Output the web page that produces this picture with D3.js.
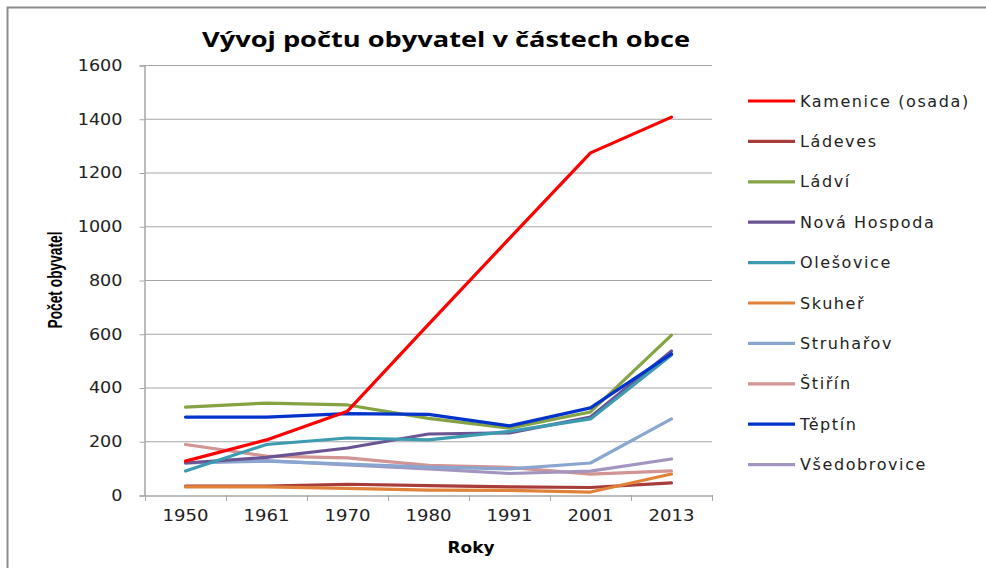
<!DOCTYPE html>
<html>
<head>
<meta charset="utf-8">
<script src="https://cdn.jsdelivr.net/npm/d3@7"></script>
<style>
  body { margin: 0; background: #fff; }
  svg { display: block; }
</style>
</head>
<body>
<div id="graf"></div>
<script>
// roky a casti obce
var roky = ['1950', '1961', '1970', '1980', '1991', '2001', '2013'];
var nazvy = ['Kamenice (osada)', 'Ládeves', 'Ládví', 'Nová Hospoda', 'Olešovice',
             'Skuheř', 'Struhařov', 'Štiřín', 'Těptín', 'Všedobrovice'];
var barvy = ['#ff0000', '#a83c3a', '#86a344', '#6b5494', '#3c9bb1',
             '#e0823a', '#8aa6d0', '#d39494', '#0033cc', '#a394c0'];

var kamenice     = [126, 205, 312, 635, 955, 1273, 1406];
var ladeves      = [33, 33, 40, 35, 30, 28, 45];
var ladvi        = [327, 342, 335, 285, 249, 309, 595];
var novaHospoda  = [119, 140, 175, 227, 231, 290, 536];
var olesovice    = [89, 188, 212, 205, 237, 283, 521];
var skuher       = [30, 30, 25, 18, 17, 11, 78];
var struharov    = [119, 126, 115, 104, 97, 119, 283];
var stirin       = [188, 145, 138, 110, 103, 78, 90];
var teptin       = [290, 290, 303, 300, 257, 324, 525];
var vsedobrovice = [120, 128, 112, 97, 80, 89, 134];

var serie = [kamenice, ladeves, ladvi, novaHospoda, olesovice,
             skuher, struharov, stirin, teptin, vsedobrovice];
var yTicks = [0, 200, 400, 600, 800, 1000, 1200, 1400, 1600];

var W = 986, H = 568;
var svg = d3.select("#graf").append("svg").attr("width", W).attr("height", H);

// ramecek (jen horni a leva hrana jsou videt)
svg.append("path").attr("d", "M7.5," + H + " L7.5,7.5 L" + W + ",7.5")
    .attr("fill", "none").attr("stroke", "#8c8c8c").attr("stroke-width", 2);

var x = d3.scaleBand().domain(roky).range([145, 712]);
var y = d3.scaleLinear().domain([0, 1600]).range([495, 65]);

// mrizka
svg.append("g").selectAll("line").data(yTicks.slice(1)).enter().append("line")
    .attr("x1", 145).attr("x2", 712)
    .attr("y1", function(d) { return y(d) + 0.5; }).attr("y2", function(d) { return y(d) + 0.5; })
    .attr("stroke", "#a6a6a6").attr("stroke-width", 1.2);

var osaY = svg.append("g").attr("transform", "translate(144.5,0.5)")
    .call(d3.axisLeft(y).tickValues(yTicks).tickSize(5).tickPadding(17).tickFormat(d3.format("d")));
var osaX = svg.append("g").attr("transform", "translate(0,495.5)")
    .call(d3.axisBottom(x).tickSize(0).tickPadding(15));
// ticky mezi kategoriemi
svg.append("g").selectAll("line").data(d3.range(roky.length + 1)).enter().append("line")
    .attr("x1", function(i) { return 145 + i * x.step() + 0.5; })
    .attr("x2", function(i) { return 145 + i * x.step() + 0.5; })
    .attr("y1", 495).attr("y2", 501).attr("stroke", "#a6a6a6");

[osaY, osaX].forEach(function(g) {
    g.select(".domain").attr("stroke", "#a6a6a6").attr("stroke-width", 1.5);
    g.selectAll(".tick line").attr("stroke", "#a6a6a6");
});
osaY.selectAll("text").attr("font-family", "DejaVu Sans, Verdana, sans-serif")
    .attr("font-size", 15).attr("fill", "#222")
    .attr("textLength", function(d) { return String(d).length * 11.2; })
    .attr("lengthAdjust", "spacingAndGlyphs");
osaX.selectAll("text").attr("font-family", "DejaVu Sans, sans-serif")
    .attr("font-size", 15).attr("fill", "#222")
    .attr("textLength", 46).attr("lengthAdjust", "spacingAndGlyphs");

// cary
var line = d3.line()
    .x(function(d, i) { return x(roky[i]) + x.bandwidth() / 2; })
    .y(function(d) { return y(d); });

var poradi = [1, 5, 7, 9, 6, 3, 4, 2, 8, 0];
poradi.forEach(function(k) {
    svg.append("path").datum(serie[k]).attr("d", line)
        .attr("fill", "none").attr("stroke", barvy[k]).attr("stroke-width", 3.2)
        .attr("stroke-linejoin", "round").attr("stroke-linecap", "round");
});

// titulky
svg.append("text").attr("x", 446).attr("y", 47).attr("text-anchor", "middle")
    .attr("font-family", "Open Sans, sans-serif").attr("font-weight", "bold")
    .attr("font-size", 21).attr("textLength", 488).attr("lengthAdjust", "spacingAndGlyphs")
    .text("Vývoj počtu obyvatel v částech obce");
svg.append("text").attr("transform", "translate(62,280) rotate(-90)").attr("text-anchor", "middle")
    .attr("font-family", "Liberation Sans, sans-serif").attr("font-weight", "bold")
    .attr("font-size", 21).attr("textLength", 97).attr("lengthAdjust", "spacingAndGlyphs")
    .text("Počet obyvatel");
svg.append("text").attr("x", 471).attr("y", 553).attr("text-anchor", "middle")
    .attr("font-family", "DejaVu Sans, sans-serif").attr("font-weight", "bold")
    .attr("font-size", 15).attr("textLength", 47).attr("lengthAdjust", "spacingAndGlyphs")
    .text("Roky");

// legenda
var leg = svg.append("g").selectAll("g").data(nazvy).enter().append("g")
    .attr("transform", function(d, i) { return "translate(748," + (101 + i * 40.4) + ")"; });
leg.append("line").attr("x1", 0).attr("x2", 47)
    .attr("stroke", function(d, i) { return barvy[i]; }).attr("stroke-width", 3.2);
leg.append("text").attr("x", 52).attr("dy", "0.35em")
    .attr("font-family", "DejaVu Sans, Verdana, sans-serif").attr("font-size", 16)
    .attr("letter-spacing", 1.6)
    .attr("fill", "#222").text(function(d) { return d; });
</script>
</body>
</html>
